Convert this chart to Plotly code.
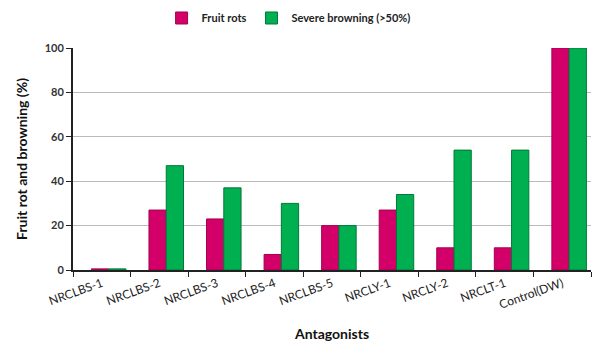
import plotly.graph_objects as go

antagonists = ["NRCLBS-1", "NRCLBS-2", "NRCLBS-3", "NRCLBS-4", "NRCLBS-5",
               "NRCLY-1", "NRCLY-2", "NRCLT-1", "Control(DW)"]
fruit_rots = [0.5, 27, 23, 7, 20, 27, 10, 10, 100]
severe_browning = [0.5, 47, 37, 30, 20, 34, 54, 54, 100]
y_ticks = [0, 20, 40, 60, 80, 100]

font_family = "Lato, 'Open Sans', sans-serif"

fig = go.Figure()
fig.add_trace(go.Bar(
    name="Fruit rots", x=antagonists, y=fruit_rots,
    width=0.3, offset=-0.18,
    marker=dict(color="#D4006A", line=dict(color="#A3004F", width=1)),
))
fig.add_trace(go.Bar(
    name="Severe browning (>50%)", x=antagonists, y=severe_browning,
    width=0.3, offset=0.12,
    marker=dict(color="#00B050", line=dict(color="#00783A", width=1)),
))

fig.update_layout(
    width=605, height=346,
    margin=dict(l=73, r=14, t=48, b=76),
    paper_bgcolor="white", plot_bgcolor="white",
    barmode="group",
    font=dict(family=font_family, size=11, color="#222222"),
    legend=dict(
        orientation="h", x=0.477, xref="container", xanchor="center",
        y=0.948, yref="container", yanchor="middle",
        font=dict(family=font_family, size=11, color="#222222", weight="bold"),
        tracegroupgap=0, bgcolor="rgba(0,0,0,0)",
    ),
    xaxis=dict(
        automargin=False,
        tickangle=-20, tickson="boundaries", ticks="outside", ticklen=5,
        tickcolor="#222222", showline=True, linecolor="#222222", linewidth=2,
        tickfont=dict(size=12, color="#222222"),
        title=dict(text="Antagonists", standoff=18,
                   font=dict(size=14, color="#111111", weight="bold")),
    ),
    yaxis=dict(
        automargin=False,
        range=[0, 100], tickvals=y_ticks, ticks="outside", ticklen=5,
        tickcolor="#222222", showline=True, linecolor="#222222", linewidth=2,
        showgrid=True, gridcolor="#BBBBBB", gridwidth=1,
        tickfont=dict(size=11, color="#333333", weight="bold"),
        title=dict(text="Fruit rot and browning (%)", standoff=14,
                   font=dict(size=14, color="#111111", weight="bold")),
        zeroline=False,
    ),
)

fig.write_html("out.html")
